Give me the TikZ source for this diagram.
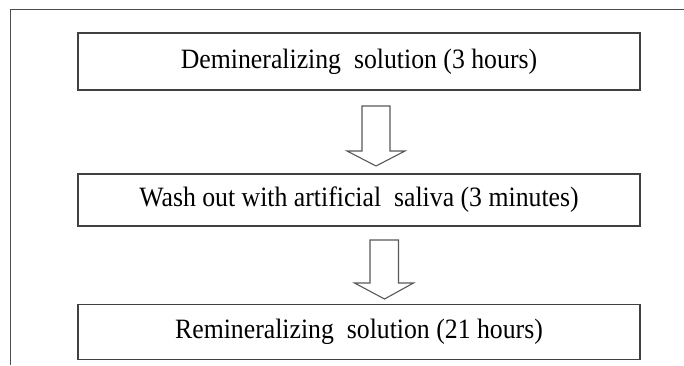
\documentclass[tikz,border=0pt]{standalone}
\usepackage{fontspec}
\usepackage{graphicx}
\setmainfont{Liberation Serif}
\newcommand{\narrowtext}[1]{\scalebox{0.92}[1]{#1}}
\begin{document}
\begin{tikzpicture}[x=1pt,y=-1pt,
  stepbox/.style={draw=black!75,line width=1.4pt,minimum width=562pt,inner sep=0pt,font=\fontsize{28}{30}\selectfont},
  hollow/.style={draw=black!65,line width=1.1pt,fill=white,line join=miter}]
\useasboundingbox (0,0) rectangle (684,365);
\draw[black!70,line width=1.5pt] (10.5,365) -- (10.5,9.5) -- (684,9.5);
\node[stepbox,minimum height=57pt] (b1) at (359,61.5) {\narrowtext{Demineralizing\ \ solution (3 hours)}};
\node[stepbox,minimum height=52pt] (b2) at (359,200) {\narrowtext{Wash out with\ artificial\ \ saliva (3 minutes)}};
\node[stepbox,minimum height=55pt] (b3) at (359,332) {\narrowtext{Remineralizing\ \ solution (21 hours)}};
\coordinate (a1) at (376,106);
\coordinate (a2) at (384.5,240);
\draw[hollow] (a1) ++(-14,0) -- ++(0,45) -- ++(-15,0) -- (376,166) -- (405,151) -- ++(-15,0) -- ++(0,-45) -- cycle;
\draw[hollow] (a2) ++(-14.5,0) -- ++(0,43) -- ++(-15.5,0) -- (384.5,299) -- (413.5,283) -- ++(-15,0) -- ++(0,-43) -- cycle;
\end{tikzpicture}
\end{document}
